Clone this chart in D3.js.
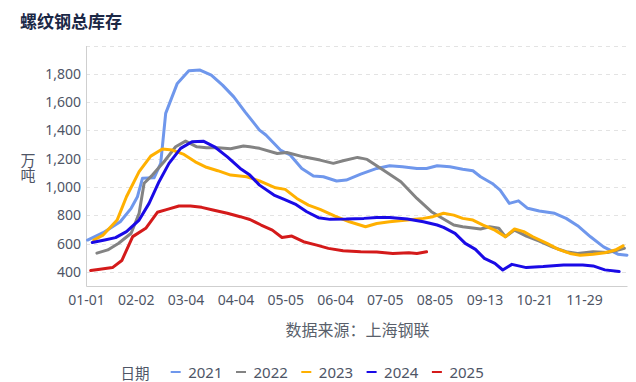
<!DOCTYPE html>
<html><head><meta charset="utf-8">
<script src="https://cdn.jsdelivr.net/npm/d3@7"></script>
<style>body{margin:0;background:#fff}svg{display:block}</style>
</head><body><svg id="c" width="636" height="382"></svg>
<script>
const title = "螺纹钢总库存";
const yName = "万吨";
const source = "数据来源：上海钢联";
const legendTitle = "日期";
const years = ["2021","2022","2023","2024","2025"];
const colors = ["#6f97ec","#838383","#ffb000","#1a0ae6","#d41a1a"];
const tickLabels = ["01-01","02-02","03-04","04-04","05-05","06-04","07-05","08-05","09-13","10-21","11-29"];
const tickDays = [0,32,62,93,124,154,185,216,255,293,332];
const yTicks = [400,600,800,1000,1200,1400,1600,1800];

// day of year (from 01-01) and inventory values (万吨)
const days2021 = [1,11,22,29,33,36,43,47,50,57,64,71,78,85,92,99,108,112,121,127,134,141,147,155,161,170,180,188,196,205,211,218,228,238,246,252,261,267,274,281,288,297,309,318,327,337,347,358,365];
const vals2021 = [625,677,754,849,931,1061,1065,1167,1520,1732,1821,1826,1790,1720,1637,1531,1402,1367,1261,1226,1131,1077,1072,1042,1049,1091,1131,1150,1143,1131,1131,1150,1143,1125,1115,1072,1025,978,884,902,849,830,814,778,726,648,577,525,518];
const days2022 = [7,14,21,29,34,37,42,49,56,62,69,75,82,90,98,102,108,119,125,135,145,153,159,168,174,184,195,205,214,220,231,238,252,259,266,271,278,287,297,308,318,327,339,350,356,363];
const vals2022 = [532,555,602,673,814,1026,1084,1178,1284,1324,1284,1277,1277,1270,1289,1284,1273,1237,1244,1213,1190,1167,1185,1209,1195,1120,1037,919,825,790,731,719,703,719,708,648,695,653,618,573,542,530,542,537,549,566];
const days2023 = [5,11,20,26,34,41,48,54,61,68,75,82,90,100,108,118,124,131,138,145,154,163,173,180,188,199,209,215,223,231,238,246,254,263,271,278,285,292,303,312,321,329,339,348,356,362];
const vals2023 = [625,660,766,931,1108,1218,1268,1261,1230,1178,1139,1115,1084,1072,1043,994,983,919,872,842,794,754,719,742,754,766,778,790,814,801,778,766,731,695,648,703,684,648,601,559,530,518,525,535,554,584];
const days2024 = [4,12,19,26,34,40,46,52,59,66,73,80,88,96,102,108,117,123,130,137,144,151,161,172,180,188,199,209,218,223,232,240,248,255,263,269,276,287,300,316,331,339,348,359];
const vals2024 = [607,625,642,684,766,884,1037,1167,1273,1320,1324,1284,1213,1131,1084,1013,943,914,879,825,783,771,773,778,785,785,773,754,731,714,672,601,559,495,460,413,453,430,437,449,449,442,414,402];
const days2025 = [3,9,17,23,30,38,45,51,58,65,72,79,88,96,102,109,116,122,128,135,143,150,159,170,180,190,200,205,211];
const vals2025 = [409,419,430,480,649,708,821,842,865,865,856,837,814,790,770,731,695,643,653,613,589,566,549,542,540,530,535,530,542];

const series = [
  {name: years[0], days: days2021, vals: vals2021, color: colors[0]},
  {name: years[1], days: days2022, vals: vals2022, color: colors[1]},
  {name: years[2], days: days2023, vals: vals2023, color: colors[2]},
  {name: years[3], days: days2024, vals: vals2024, color: colors[3]},
  {name: years[4], days: days2025, vals: vals2025, color: colors[4]},
];

const svg = d3.select("#c");
const L = 86, R = 627, T = 45.5, B = 286;
const step = 49.8;
const textColor = "#4e5566";
const font = "'Noto Sans', 'Noto Sans CJK SC', sans-serif";

const x = d3.scaleLinear()
  .domain([...tickDays, 365])
  .range([...tickDays.map((d, i) => L + i * step), R]);
const y = d3.scaleLinear().domain([300, 2000]).range([B, T]);

// title
svg.append("text").attr("x", 20).attr("y", 20).attr("dominant-baseline", "central")
  .attr("font-family", "'Noto Sans CJK SC', sans-serif").attr("font-weight", "bold")
  .attr("font-size", 17).attr("fill", "#1b2846").text(title);

// grid
const gridVals = [...yTicks, 2000];
svg.append("g").selectAll("line").data(gridVals).join("line")
  .attr("x1", L).attr("x2", R).attr("y1", d => Math.round(y(d)) + 0.5).attr("y2", d => Math.round(y(d)) + 0.5)
  .attr("stroke", "#e3e3e3").attr("stroke-width", 1).attr("stroke-dasharray", "4,4");

// y axis
const yAxis = d3.axisLeft(y).tickValues(yTicks).tickSize(0).tickPadding(5)
  .tickFormat(d3.format(","));
const gy = svg.append("g").attr("transform", `translate(${L},0)`).call(yAxis);
gy.select(".domain").attr("stroke", "#cfcfcf");
gy.selectAll("text").attr("font-family", font).attr("font-size", 14).attr("fill", textColor);

// x axis
const xAxis = d3.axisBottom(x).tickValues(tickDays).tickSize(0).tickPadding(9)
  .tickFormat((d, i) => tickLabels[i]);
const gx = svg.append("g").attr("transform", `translate(0,${B})`).call(xAxis);
gx.select(".domain").attr("stroke", "#cfcfcf");
gx.selectAll("text").attr("font-family", font).attr("font-size", 14).attr("fill", textColor);

// y axis name (vertical)
svg.append("text").attr("x", 28).attr("y", 168)
  .attr("font-family", "'Noto Sans CJK SC', sans-serif")
  .attr("font-size", 15).attr("fill", textColor).attr("text-anchor", "middle")
  .style("writing-mode", "vertical-rl").style("text-orientation", "upright")
  .text(yName);

// lines
const line = d3.line().x(d => x(d[0])).y(d => y(d[1]));
svg.append("g").selectAll("path").data(series).join("path")
  .attr("d", s => line(s.days.map((d, i) => [d, s.vals[i]])))
  .attr("fill", "none").attr("stroke", s => s.color).attr("stroke-width", 3)
  .attr("stroke-linejoin", "round").attr("stroke-linecap", "round");

// source
svg.append("text").attr("x", 357.5).attr("y", 329).attr("text-anchor", "middle")
  .attr("dominant-baseline", "central").attr("font-family", "'Noto Sans CJK SC', sans-serif")
  .attr("font-size", 16).attr("fill", "#595f6b").text(source);

// legend
const ly = 372;
svg.append("text").attr("x", 120.5).attr("y", ly).attr("dominant-baseline", "central")
  .attr("font-family", "'Noto Sans CJK SC', sans-serif").attr("font-size", 14.5).attr("fill", textColor).text(legendTitle);
const lg = svg.append("g").selectAll("g").data(series).join("g")
  .attr("transform", (d, i) => `translate(${170.7 + i * 65.3},${ly})`);
lg.append("line").attr("x1", 0).attr("x2", 10).attr("y1", 0).attr("y2", 0)
  .attr("stroke", d => d.color).attr("stroke-width", 2);
lg.append("text").attr("x", 17.5).attr("y", 0).attr("dominant-baseline", "central")
  .attr("font-family", font).attr("font-size", 15).attr("fill", textColor).text(d => d.name);
</script></body></html>
